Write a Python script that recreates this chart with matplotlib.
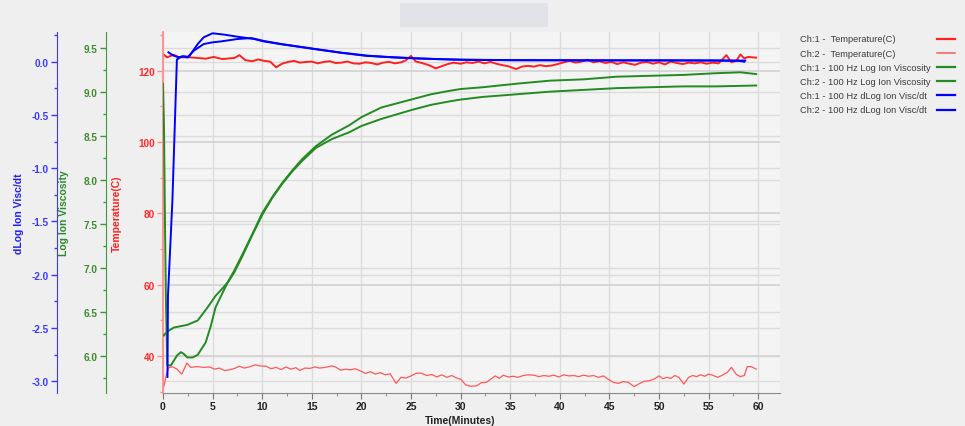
import matplotlib
matplotlib.use('Agg')
import matplotlib.pyplot as plt
import matplotlib.transforms as mtransforms
from matplotlib.lines import Line2D
from matplotlib.patches import Rectangle
from matplotlib.ticker import MultipleLocator, FormatStrFormatter

plt.rcParams['font.family'] = ['Liberation Sans', 'DejaVu Sans']
plt.rcParams['axes.unicode_minus'] = False

# ---- data (time in minutes) ----
temp1_t = [0, 0.4, 1.1, 1.6, 2.6, 3.6, 4.3, 5.1, 6.0, 6.7, 7.2, 7.7, 8.3, 9.0, 9.6, 10.2, 10.8,
           11.4, 12.0, 12.6, 13.2, 13.8, 14.4, 15.0, 15.6, 16.2, 16.8, 17.4, 18.0, 18.6, 19.2,
           19.8, 20.4, 21.0, 21.6, 22.2, 22.8, 23.4, 24.0, 24.5, 25.0, 25.5, 26.1, 26.8, 27.5,
           28.1, 28.7, 29.3, 30.0, 30.6, 31.2, 31.8, 32.4, 33.0, 33.6, 34.2, 34.8, 35.6, 36.2,
           36.8, 37.4, 38.0, 38.6, 39.2, 39.8, 40.4, 41.0, 41.6, 42.2, 42.8, 43.4, 44.0, 44.6,
           45.2, 45.8, 46.4, 47.0, 47.6, 48.2, 48.8, 49.4, 50.0, 50.6, 51.2, 51.8, 52.4, 53.0,
           53.6, 54.2, 54.8, 55.4, 56.0, 56.8, 57.3, 57.8, 58.2, 58.6, 59.0, 59.4, 59.8]
temp1_v = [124.7, 123.8, 124.5, 123.8, 123.8, 123.6, 123.4, 123.9, 123.3, 123.5, 123.6, 124.4,
           123.0, 122.7, 123.2, 122.8, 122.6, 121.0, 122.0, 122.5, 122.8, 122.3, 122.5, 122.6,
           122.1, 122.5, 122.7, 122.2, 122.3, 122.6, 122.1, 122.0, 122.4, 122.2, 121.8, 122.3,
           122.5, 122.1, 122.4, 123.0, 124.2, 122.6, 122.2, 121.6, 120.7, 121.3, 121.9, 122.3,
           122.0, 122.4, 122.2, 122.6, 122.1, 122.5, 122.0, 121.6, 121.3, 120.5, 121.2, 121.4,
           121.2, 121.6, 121.3, 121.5, 121.9, 122.4, 122.8, 122.3, 122.6, 123.1, 122.4, 122.7,
           122.2, 122.5, 121.9, 122.4, 122.0, 121.7, 122.3, 122.5, 122.0, 122.4, 121.8, 122.6,
           122.2, 121.9, 122.3, 122.1, 122.4, 122.0, 122.3, 122.1, 124.4, 122.4, 122.8, 124.6,
           123.5, 123.9, 123.8, 123.7]

temp2_t = [0.0, 0.1, 0.4, 0.6, 1.0, 1.4, 1.9, 2.4, 2.8, 3.4, 4.1, 4.7, 5.2, 5.7, 6.2, 6.7, 7.2,
           7.7, 8.2, 8.8, 9.3, 9.8, 10.4, 10.9, 11.4, 11.9, 12.4, 12.9, 13.4, 13.8, 14.3, 14.8,
           15.3, 15.8, 16.4, 17.0, 17.4, 17.9, 18.4, 18.9, 19.4, 19.9, 20.4, 20.9, 21.4, 21.9,
           22.4, 22.9, 23.5, 24.0, 24.5, 25.0, 25.5, 26.0, 26.6, 27.1, 27.6, 28.1, 28.6, 29.1,
           29.6, 30.0, 30.5, 31.0, 31.6, 32.1, 32.6, 33.0, 33.5, 33.9, 34.3, 34.8, 35.3, 35.8,
           36.3, 36.8, 37.4, 37.9, 38.4, 38.9, 39.4, 39.9, 40.4, 40.9, 41.4, 41.9, 42.4, 42.9,
           43.4, 43.9, 44.4, 44.9, 45.4, 45.9, 46.4, 46.9, 47.5, 48.0, 48.5, 49.0, 49.5, 50.0,
           50.4, 50.8, 51.2, 51.6, 52.0, 52.5, 53.0, 53.4, 53.8, 54.2, 54.6, 55.0, 55.4, 55.9,
           56.4, 56.9, 57.3, 57.8, 58.2, 58.6, 58.9, 59.3, 59.8]
temp2_v = [30.8, 31.6, 35.4, 36.8, 36.9, 36.3, 34.9, 38.0, 36.8, 37.0, 36.8, 36.9, 36.3, 36.6,
           35.9, 36.1, 36.5, 37.1, 36.6, 37.0, 37.5, 37.2, 37.1, 36.4, 36.8, 36.2, 36.9, 36.3,
           36.7, 35.9, 36.6, 36.5, 36.9, 36.6, 36.8, 37.2, 36.9, 36.0, 36.3, 36.1, 36.4, 35.8,
           35.1, 35.6, 34.9, 35.3, 34.7, 35.0, 32.3, 34.0, 33.8, 34.4, 35.1, 35.2, 34.5, 34.8,
           34.1, 34.7, 34.0, 34.5, 33.8, 33.5, 31.9, 31.5, 31.6, 32.5, 32.6, 33.4, 34.4, 33.7,
           34.6, 34.1, 34.3, 34.0, 34.5, 34.7, 34.6, 34.2, 34.5, 34.3, 34.6, 34.1, 34.7, 34.4,
           34.5, 34.2, 34.6, 34.3, 34.5, 34.0, 34.4, 33.4, 32.6, 32.3, 32.8, 32.6, 31.4, 32.2,
           32.9, 33.0, 33.5, 34.4, 33.6, 34.0, 33.7, 34.5, 34.0, 32.1, 34.0, 34.5, 34.2, 34.7,
           34.3, 34.9, 34.6, 34.0, 34.6, 35.4, 36.8, 34.8, 34.2, 34.5, 37.0, 37.0, 36.3]

visc1_t = [0.0, 0.1, 0.2, 0.3, 0.43, 0.8, 1.4, 1.8, 2.1, 2.45, 3.0, 3.5, 4.3, 4.8, 5.3, 6.2,
           6.7, 7.2, 8.0, 9.0, 10.0, 11.0, 12.0, 13.0, 14.0, 15.4, 17.0, 18.8, 20.0, 22.0,
           25.0, 27.0, 28.9, 30.0, 32.2, 35.6, 39.0, 42.4, 45.7, 49.0, 52.4, 55.8, 58.2, 59.8]
visc1_v = [9.09, 8.6, 7.5, 6.6, 5.89, 5.89, 6.0, 6.04, 6.02, 5.98, 5.98, 6.01, 6.15, 6.33,
           6.55, 6.76, 6.87, 6.97, 7.15, 7.38, 7.62, 7.80, 7.96, 8.10, 8.23, 8.38, 8.51, 8.62,
           8.71, 8.82, 8.91, 8.97, 9.01, 9.03, 9.05, 9.09, 9.125, 9.14, 9.17, 9.18, 9.19, 9.21,
           9.22, 9.20]

visc2_t = [0.1, 0.37, 1.1, 2.45, 3.5, 4.5, 5.3, 6.2, 6.7, 7.2, 8.0, 9.0, 10.0, 11.0, 12.0,
           13.0, 14.0, 15.4, 17.0, 18.8, 20.0, 22.0, 25.0, 27.0, 28.9, 30.0, 32.2, 35.6, 39.0,
           42.4, 45.7, 49.0, 52.4, 55.8, 59.8]
visc2_v = [6.23, 6.27, 6.32, 6.35, 6.40, 6.55, 6.68, 6.79, 6.86, 6.95, 7.13, 7.37, 7.60, 7.79,
           7.95, 8.09, 8.21, 8.36, 8.46, 8.54, 8.61, 8.69, 8.79, 8.85, 8.89, 8.91, 8.94, 8.97,
           9.00, 9.02, 9.04, 9.05, 9.06, 9.06, 9.07]

dvisc1_t = [0.55, 0.8, 1.1, 1.6, 2.0, 2.45, 3.1, 4.1, 5.0, 5.8, 7.5, 8.9, 10.2, 12.0, 15.4,
            18.0, 20.5, 23.0, 25.5, 28.0, 30.2, 35.0, 40.0, 45.0, 50.0, 55.0, 58.7]
dvisc1_v = [0.088, 0.072, 0.056, 0.041, 0.052, 0.040, 0.103, 0.166, 0.182, 0.19, 0.213, 0.222,
            0.194, 0.165, 0.119, 0.085, 0.058, 0.043, 0.032, 0.024, 0.019, 0.015, 0.014,
            0.013, 0.013, 0.012, 0.011]

dvisc2_t = [0.45, 0.5, 0.95, 1.4, 1.8, 2.2, 2.6, 3.5, 4.1, 5.0, 6.2, 7.5, 9.2, 10.2, 12.0,
            15.4, 18.0, 20.5, 23.0, 25.5, 28.0, 30.2, 35.0, 40.0, 45.0, 50.0, 55.0, 58.0, 58.6]
dvisc2_v = [-2.96, -2.2, -1.3, 0.02, 0.045, 0.05, 0.045, 0.166, 0.229, 0.267, 0.254, 0.235,
            0.213, 0.19, 0.163, 0.117, 0.083, 0.055, 0.041, 0.031, 0.023, 0.018, 0.014,
            0.013, 0.012, 0.012, 0.011, 0.008, 0.0]

legend_labels = ['Ch:1 -  Temperature(C)', 'Ch:2 -  Temperature(C)',
                 'Ch:1 - 100 Hz Log Ion Viscosity', 'Ch:2 - 100 Hz Log Ion Viscosity',
                 'Ch:1 - 100 Hz dLog Ion Visc/dt', 'Ch:2 - 100 Hz dLog Ion Visc/dt']

# colours
RED1 = '#ff2020'
RED2 = '#ff5858'
GREEN = '#228b22'
BLUE = '#0000ff'
GRID = '#dcdcdc'

fig = plt.figure(figsize=(9.65, 4.27), dpi=100, facecolor='#efefef')
fig.patches.append(Rectangle((400 / 965, 1 - 28 / 427), 148 / 965, 24 / 427,
                             transform=fig.transFigure, facecolor='#e1e3e8',
                             edgecolor='none'))

ax = fig.add_axes([163 / 965, 1 - 394 / 427, 617 / 965, 361 / 427])
ax.set_facecolor('#f4f4f4')
axg = ax.twinx()
axb = ax.twinx()

ax.set_xlim(0, 62.2)
ax.set_ylim(29.6, 130.9)
axg.set_ylim(5.576, 9.678)
axb.set_ylim(-3.111, 0.279)

# spines
for a in (ax, axg, axb):
    a.spines['top'].set_visible(False)
    a.spines['right'].set_visible(False)
for a in (axg, axb):
    a.spines['bottom'].set_visible(False)
    a.yaxis.set_ticks_position('left')
    a.yaxis.set_label_position('left')
axg.spines['left'].set_position(('outward', 57 * 0.72))
axb.spines['left'].set_position(('outward', 106 * 0.72))
ax.spines['left'].set_color('#ff8c8c')
ax.spines['left'].set_linewidth(1.3)
axg.spines['left'].set_color('#3c9a3c')
axb.spines['left'].set_color('#3a3aff')
ax.spines['bottom'].set_color('#8a8a8a')

# ticks
ax.xaxis.set_major_locator(MultipleLocator(5))
ax.xaxis.set_minor_locator(MultipleLocator(2.5))
ax.yaxis.set_major_locator(MultipleLocator(20))
ax.yaxis.set_minor_locator(MultipleLocator(10))
axg.yaxis.set_major_locator(MultipleLocator(0.5))
axg.yaxis.set_minor_locator(MultipleLocator(0.25))
axg.yaxis.set_major_formatter(FormatStrFormatter('%.1f'))
axb.yaxis.set_major_locator(MultipleLocator(0.5))
axb.yaxis.set_minor_locator(MultipleLocator(0.25))
axb.yaxis.set_major_formatter(FormatStrFormatter('%.1f'))

ax.tick_params(axis='x', which='major', length=4, color='#777777', labelsize=7.5, pad=2,
               labelcolor='#222222')
ax.tick_params(axis='x', which='minor', length=2, color='#777777')
for lbl in ax.get_xticklabels():
    lbl.set_fontweight('bold')
for a, c, lc in ((ax, '#ff8c8c', '#ff2a2a'), (axg, '#3c9a3c', '#3c8c2c'), (axb, '#3a3aff', '#3a3aff')):
    a.tick_params(axis='y', which='major', length=4, width=1, color=c, labelcolor=lc,
                  labelsize=7.2, pad=2)
    a.tick_params(axis='y', which='minor', length=2.5, width=1, color=c)
    for lbl in a.get_yticklabels():
        lbl.set_fontweight('bold')

# labels
ax.set_xlabel('Time(Minutes)', fontsize=7.5, fontweight='bold', color='#222222')
ax.xaxis.set_label_coords(30 / 62.2, -0.06)
ax.set_ylabel('Temperature(C)', fontsize=7.5, fontweight='bold', color=RED1)
ax.yaxis.set_label_coords(-0.066, 0.5)
axg.set_ylabel('Log Ion Viscosity', fontsize=7.5, fontweight='bold', color='#2a8a2a')
axg.yaxis.set_label_coords(-0.153, 0.5)
axb.set_ylabel('dLog Ion Visc/dt', fontsize=7.5, fontweight='bold', color='#2020ee')
axb.yaxis.set_label_coords(-0.226, 0.5)

# grid: vertical + horizontal lines of all three scales, drawn in the bottom axes
ax.set_axisbelow(True)
ax.grid(axis='x', which='major', color=GRID, lw=1)
ax.grid(axis='y', which='major', color='#d2d2d2', lw=1.2)
tg = mtransforms.blended_transform_factory(ax.transAxes, axg.transData)
tb = mtransforms.blended_transform_factory(ax.transAxes, axb.transData)
g_ticks = [v for v in axg.get_yticks() if 5.576 <= v <= 9.678]
b_ticks = [v for v in axb.get_yticks() if -3.111 <= v <= 0.279]
ax.hlines(g_ticks, 0, 1, transform=tg, color=GRID, lw=1, zorder=0.5)
ax.hlines(b_ticks, 0, 1, transform=tb, color=GRID, lw=1, zorder=0.5)
ax.set_xlim(0, 62.2)
ax.set_ylim(29.6, 130.9)

# series
ax.plot(temp1_t, temp1_v, color=RED1, lw=1.4)
ax.plot(temp2_t, temp2_v, color=RED2, lw=0.9)
axg.plot(visc1_t, visc1_v, color=GREEN, lw=1.4)
axg.plot(visc2_t, visc2_v, color=GREEN, lw=1.4)
axb.plot(dvisc1_t, dvisc1_v, color=BLUE, lw=1.4)
axb.plot(dvisc2_t, dvisc2_v, color=BLUE, lw=1.4)

# legend: text left aligned, line sample to the right
leg_colors = [RED1, RED2, GREEN, GREEN, BLUE, BLUE]
leg_widths = [1.6, 1.1, 1.6, 1.6, 1.6, 1.6]
for i, lab in enumerate(legend_labels):
    yy = 1 - (40 + i * 14.1) / 427
    fig.text(800 / 965, yy, lab, fontsize=6.7, color='#3c3c3c', va='center', ha='left')
    fig.add_artist(Line2D([937 / 965, 955 / 965], [yy, yy], transform=fig.transFigure,
                          color=leg_colors[i], lw=leg_widths[i]))

fig.savefig('out.png', dpi=100, facecolor=fig.get_facecolor())
